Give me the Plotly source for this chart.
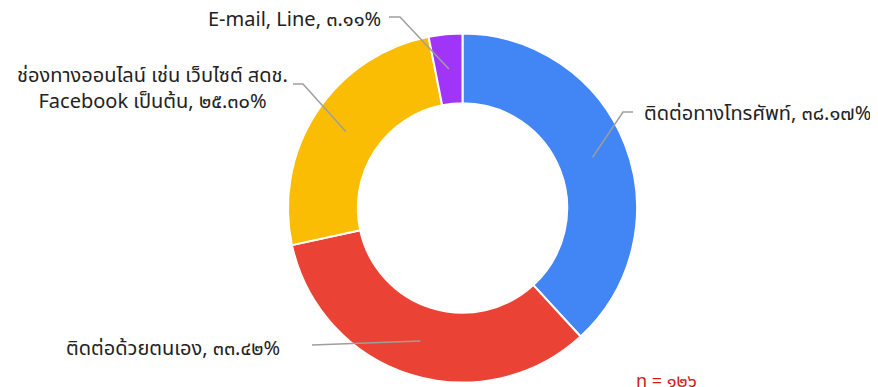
import math
import plotly.graph_objects as go

# ---- data ----
categories = [
    "ติดต่อทางโทรศัพท์",
    "ติดต่อด้วยตนเอง",
    "ช่องทางออนไลน์ เช่น เว็บไซต์ สดช.<br>Facebook เป็นต้น",
    "E-mail, Line",
]
percentages = [38.17, 33.42, 25.30, 3.11]
colors = ["#4285F4", "#EA4335", "#FBBC04", "#A035F7"]
sample_size = 126

W, H = 878, 387
OFF = 8  # page body margin offset
THAI_DIGITS = str.maketrans("0123456789", "๐๑๒๓๔๕๖๗๘๙")


def thai(s):
    return s.translate(THAI_DIGITS)


def px(x):
    return (x - OFF) / W


def py(y):
    return 1 - (y - OFF) / H


# pie geometry (pixels in the screenshot)
left, right, top, bottom = 288, 637, 33, 383
cx, cy = (left + right) / 2, (top + bottom) / 2
r_out = (right - left) / 2
hole = 0.6
r_mid = r_out * (1 + hole) / 2

fig = go.Figure(go.Pie(
    labels=categories,
    values=percentages,
    sort=False,
    direction="clockwise",
    rotation=0,
    hole=hole,
    textinfo="none",
    marker=dict(colors=colors, line=dict(color="white", width=2)),
    domain=dict(x=[px(left), px(right)], y=[py(bottom), py(top)]),
    showlegend=False,
))

# label layout: elbow point, end of horizontal part, text anchor
label_layout = [
    dict(elbow=(623, 112), end=(633, 112), text=(642, 114), xanchor="left", align="left"),
    dict(elbow=(312, 345), end=(312, 345), text=(282, 349), xanchor="right", align="right"),
    dict(elbow=(303, 84), end=(293, 84), text=(152, 89), xanchor="center", align="center"),
    dict(elbow=(400, 17), end=(389, 17), text=(383, 20), xanchor="right", align="right"),
]

total = sum(percentages)
cum = 0.0
shapes, annotations = [], []
for cat, val, lay in zip(categories, percentages, label_layout):
    mid = (cum + val / 2) / total * 2 * math.pi
    cum += val
    sx = cx + math.sin(mid) * r_mid
    sy = cy - math.cos(mid) * r_mid
    ex, ey = lay["elbow"]
    fx, fy = lay["end"]
    shapes.append(dict(
        type="path", xref="paper", yref="paper",
        path=f"M {px(sx)} {py(sy)} L {px(ex)} {py(ey)} L {px(fx)} {py(fy)}",
        line=dict(color="#9E9E9E", width=1.5),
    ))
    tx, ty = lay["text"]
    annotations.append(dict(
        x=px(tx), y=py(ty), xref="paper", yref="paper",
        text=f"{cat}, {thai(f'{val:.2f}')}%",
        showarrow=False, xanchor=lay["xanchor"], yanchor="middle",
        align=lay["align"],
        font=dict(size=20, color="#222222"),
    ))

annotations.append(dict(
    x=px(634), y=py(381), xref="paper", yref="paper",
    text=f"n = {thai(str(sample_size))}",
    showarrow=False, xanchor="left", yanchor="middle",
    font=dict(size=18, color="#CC1B1B"),
))

fig.update_layout(
    width=W, height=H,
    margin=dict(l=0, r=0, t=0, b=0),
    paper_bgcolor="white", plot_bgcolor="white",
    font=dict(family="Tahoma, 'Noto Sans Thai', 'Noto Sans', 'DejaVu Sans', sans-serif"),
    shapes=shapes,
    annotations=annotations,
)

fig.write_html("out.html")
